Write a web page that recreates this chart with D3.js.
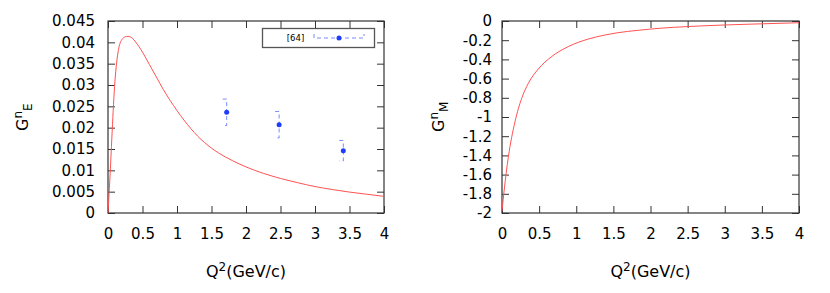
<!DOCTYPE html>
<html><head><meta charset="utf-8">
<script src="https://cdn.jsdelivr.net/npm/d3@7"></script>
<style>
html,body{margin:0;padding:0;background:#fff;}
text{font-family:"DejaVu Sans",sans-serif;fill:#000;}
</style></head>
<body><svg id="c" width="830" height="293"></svg>
<script>
// ---- data ----
const xTicks = [0, 0.5, 1, 1.5, 2, 2.5, 3, 3.5, 4];
const xTickLabels = ["0", "0.5", "1", "1.5", "2", "2.5", "3", "3.5", "4"];
const yTicksE = [0, 0.005, 0.01, 0.015, 0.02, 0.025, 0.03, 0.035, 0.04, 0.045];
const yTickLabelsE = ["0", "0.005", "0.01", "0.015", "0.02", "0.025", "0.03", "0.035", "0.04", "0.045"];
const yTicksM = [0, -0.2, -0.4, -0.6, -0.8, -1, -1.2, -1.4, -1.6, -1.8, -2];
const yTickLabelsM = ["0", "-0.2", "-0.4", "-0.6", "-0.8", "-1", "-1.2", "-1.4", "-1.6", "-1.8", "-2"];

// model curve G_E^n
const gEnQ2 = [0, 0.02, 0.04, 0.06, 0.08, 0.10, 0.125, 0.15, 0.175, 0.2, 0.25, 0.29, 0.35, 0.4, 0.5, 0.6, 0.7, 0.8, 0.9, 1.0,
  1.1, 1.2, 1.3, 1.4, 1.5, 1.6, 1.8, 2.0, 2.25, 2.5, 2.75, 3.0, 3.25, 3.5, 3.75, 4.0];
const gEnVal = [0, 0.0058, 0.0122, 0.0190, 0.0255, 0.0308, 0.0352, 0.0381, 0.0398, 0.0406, 0.0413, 0.0414, 0.0410, 0.0401, 0.0377, 0.0348, 0.0319, 0.0290, 0.0264, 0.0240,
  0.0218, 0.0198, 0.0180, 0.0165, 0.0152, 0.0141, 0.0123, 0.0108, 0.0093, 0.0081, 0.0071, 0.0062, 0.0055, 0.0049, 0.0044, 0.0039];
// data [64]
const expQ2 = [1.72, 2.48, 3.41];
const expVal = [0.0236, 0.0207, 0.0146];
const expErr = [0.0031, 0.0031, 0.0024];
// model curve G_M^n
const gMnQ2 = [0, 0.031, 0.085, 0.175, 0.265, 0.354, 0.489, 0.668, 0.892, 1.161, 1.386, 1.99, 2.66, 3.34, 4.0];
const gMnVal = [-1.98, -1.75, -1.42, -1.049, -0.806, -0.65, -0.50, -0.371, -0.267, -0.188, -0.146, -0.085, -0.052, -0.033, -0.018];

const svg = d3.select("#c");
const frameColor = "#333";
const red = "#ff5252";
const blue = "#1f3dff";

function panel(o) {
  const g = svg.append("g");
  const x = d3.scaleLinear().domain([0, 4]).range([o.x0, o.x1]);
  const y = d3.scaleLinear().domain(o.yDomain).range([o.y1, o.y0]);
  const tl = 7;
  const ax = (gen, tr) => {
    const a = g.append("g").attr("transform", tr).call(gen);
    a.select(".domain").remove();
    a.selectAll("line").attr("stroke", frameColor);
    a.selectAll("text").attr("font-size", 15).attr("font-family", "DejaVu Sans").attr("fill", "#000");
    return a;
  };
  ax(d3.axisBottom(x).tickValues(xTicks).tickFormat((d, i) => xTickLabels[i]).tickSizeInner(-tl).tickSizeOuter(0).tickPadding(15), `translate(0,${o.y1})`);
  ax(d3.axisTop(x).tickValues(xTicks).tickFormat("").tickSizeInner(-tl).tickSizeOuter(0), `translate(0,${o.y0})`);
  ax(d3.axisLeft(y).tickValues(o.yTicks).tickFormat((d, i) => o.yLabels[i]).tickSizeInner(-tl).tickSizeOuter(0).tickPadding(o.yPad), `translate(${o.x0},0)`);
  ax(d3.axisRight(y).tickValues(o.yTicks).tickFormat("").tickSizeInner(-tl).tickSizeOuter(0), `translate(${o.x1},0)`);
  g.append("rect").attr("x", o.x0).attr("y", o.y0).attr("width", o.x1 - o.x0).attr("height", o.y1 - o.y0)
    .attr("fill", "none").attr("stroke", frameColor).attr("stroke-width", 1.2);

  const clipId = "clip" + o.id;
  svg.append("clipPath").attr("id", clipId).append("rect")
    .attr("x", o.x0).attr("y", o.y0 - 1).attr("width", o.x1 - o.x0).attr("height", o.y1 - o.y0 + 2);
  const line = d3.line().x(d => x(d[0])).y(d => y(d[1])).curve(d3.curveMonotoneX);
  g.append("path").datum(d3.zip(o.cx, o.cy)).attr("d", line).attr("clip-path", `url(#${clipId})`)
    .attr("fill", "none").attr("stroke", red).attr("stroke-width", 1);

  // x title
  const xt = g.append("text").attr("x", (o.x0 + o.x1) / 2).attr("y", 277).attr("text-anchor", "middle").attr("font-size", 16);
  xt.append("tspan").text("Q");
  xt.append("tspan").attr("dy", -6).attr("font-size", 12).text("2");
  xt.append("tspan").attr("dy", 6).text("(GeV/c)");
  // y title
  const yt = g.append("text").attr("transform", `translate(${o.ytx},${o.yty}) rotate(-90)`).attr("font-size", 16);
  yt.append("tspan").text("G");
  yt.append("tspan").attr("dy", -6).attr("font-size", 12).text("n");
  yt.append("tspan").attr("dy", 10).attr("font-size", 12).text(o.sub);
  return {g, x, y};
}

const L = panel({id: "L", x0: 108, x1: 384, y0: 21, y1: 213, yDomain: [0, 0.045], yTicks: yTicksE, yLabels: yTickLabelsE,
  yPad: 13, cx: gEnQ2, cy: gEnVal, ytx: 28, yty: 131, sub: "E"});
const R = panel({id: "R", x0: 502, x1: 799, y0: 21, y1: 213, yDomain: [-2, 0], yTicks: yTicksM, yLabels: yTickLabelsM,
  yPad: 10, cx: gMnQ2, cy: gMnVal, ytx: 444, yty: 132, sub: "M"});

// error bars + points
const eb = L.g.append("g");
const cap = 4;
expQ2.forEach((q, i) => {
  const cx = L.x(q), cy = L.y(expVal[i]);
  const yt = L.y(expVal[i] + expErr[i]), yb = L.y(expVal[i] - expErr[i]);
  eb.append("path").attr("d", `M${cx - cap},${yt}H${cx}V${yb}H${cx - cap}`)
    .attr("fill", "none").attr("stroke", blue).attr("stroke-opacity", 0.6).attr("stroke-width", 1).attr("stroke-dasharray", "4,3");
  eb.append("circle").attr("cx", cx).attr("cy", cy).attr("r", 2.5).attr("fill", blue);
});

// legend
const lg = L.g.append("g");
lg.append("rect").attr("x", 262.5).attr("y", 28.5).attr("width", 112).attr("height", 19)
  .attr("fill", "#fff").attr("stroke", "#555").attr("stroke-width", 1.3);
lg.append("text").attr("x", 295.5).attr("y", 41).attr("text-anchor", "middle").attr("font-size", 8.5).text("[64]");
lg.append("path").attr("d", "M314,34V38H364V34").attr("fill", "none").attr("stroke", blue).attr("stroke-opacity", 0.6)
  .attr("stroke-width", 1).attr("stroke-dasharray", "4,3");
lg.append("circle").attr("cx", 339).attr("cy", 38).attr("r", 2.5).attr("fill", blue);
</script></body></html>
